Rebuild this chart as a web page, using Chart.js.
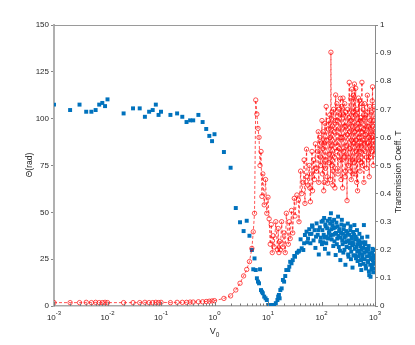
<!DOCTYPE html>
<html>
<head>
<meta charset="utf-8">
<script src="https://cdn.jsdelivr.net/npm/chart.js@4.4.1/dist/chart.umd.min.js"></script>
<style>
  html, body { margin: 0; padding: 0; background: #fff; }
  #wrap { width: 415px; height: 345px; }
</style>
</head>
<body>
<div id="wrap"><canvas id="thetaChart" width="415" height="345"></canvas></div>
<script>
// V0 sample points, shared by both curves
const v0 = [
  0.001, 0.002, 0.003, 0.004, 0.005, 0.006, 0.007, 0.008, 0.009, 0.01,
  0.02, 0.03, 0.04, 0.05, 0.06, 0.07, 0.08, 0.09, 0.1,
  0.15, 0.2, 0.25, 0.3, 0.35, 0.4, 0.5, 0.6, 0.7, 0.8, 0.9, 1,
  1.5, 2, 2.5, 3, 3.5, 4, 4.5, 5,
  5.3, 5.6, 5.9, 6.2, 6.5, 6.8, 7.1, 7.4, 7.7, 8, 8.5, 9, 9.5, 10, 10.5, 11, 11.5, 12, 12.5, 13,
  14, 15, 15.5, 16, 16.5, 17, 18, 19, 20,
  21, 22, 24, 25, 26, 27.5, 29, 31, 32, 34.7,
  37, 38, 40.7, 42.7, 45.7, 47.3, 49, 52.5, 54.2, 56,
  59, 60.5, 62, 65, 66.5, 68, 71, 74, 77, 79,
  81, 85, 87, 89, 93, 95, 97, 100,
  102, 104, 106, 108, 110, 112, 114, 116, 118, 120,
  122.5, 125, 127.5, 130, 132.5, 135, 137.5, 140, 142.5, 145,
  147.5, 150, 152.5, 155, 157.5, 160, 163, 166, 169, 172,
  175, 178, 181, 184, 187, 190, 193.5, 197, 200.5, 204,
  207.5, 211, 214.5, 218, 221.5, 225, 228.5, 232, 236, 240,
  244, 248, 252, 256, 260, 264, 268, 272, 276, 280,
  285, 290, 295, 300, 305, 310, 315, 320, 325, 330,
  335, 340, 345, 350, 355, 360, 365, 370, 375, 380,
  385, 390, 395, 400, 406, 412, 418, 424, 430, 436,
  442, 448, 454, 460, 466, 472, 478.5, 485, 491.5, 498,
  504.5, 511, 518, 525, 532.5, 540, 547.5, 555, 562.5, 570,
  577.5, 585, 592.5, 600, 610, 620, 630, 640, 650, 660,
  670, 680, 690, 700, 710, 720, 730, 740, 750, 760,
  770, 780, 790, 800, 812.5, 825, 837.5, 850, 862.5, 875,
  887.5, 900, 912.5, 925, 937.5, 950, 962.5, 975, 987.5, 1000
];

// Theta (rad), left axis
const theta = [
  107.5, 104.6, 107.5, 103.7, 103.7, 104.6, 107.5, 108.4, 106.7, 110.3,
  102.8, 105.5, 105.5, 101.0, 103.7, 104.6, 107.5, 102.0, 103.7,
  102.0, 102.8, 101.0, 98.2, 99.1, 99.1, 102.0, 98.2, 94.5, 90.8, 88.0, 91.7,
  82.2, 73.8, 52.3, 44.7, 40.0, 45.5, 37.5, 29.9,
  19.6, 25.4, 19.2, 14.8, 13.0, 12.1, 19.6, 8.5, 7.6, 6.8, 5.0, 4.1, 3.2, 0.5, 0.3, 0.5, 0.0, 0.5, 0.3, 0.5,
  1.5, 3.2, 5.0, 5.9, 4.1, 8.5, 9.4, 13.9, 13.0,
  16.0, 19.2, 19.2, 21.0, 23.6, 22.8, 24.5, 26.7, 26.3, 28.4,
  29.0, 29.5, 35.6, 30.8, 29.9, 33.5, 37.9, 39.7, 34.0, 36.0,
  41.0, 38.5, 33.5, 38.5, 43.0, 42.3, 35.0, 40.5, 31.0, 37.0,
  44.1, 38.0, 40.5, 27.5, 42.0, 34.5, 36.5, 45.0,
  33.0, 40.5, 45.5, 34.0, 38.0, 47.0, 36.5, 30.5, 43.5, 42.5,
  33.5, 37.0, 41.5, 45.5, 36.0, 28.0, 39.0, 40.0, 46.5, 44.0,
  37.5, 49.5, 41.0, 35.5, 45.0, 43.0, 38.0, 32.0, 41.5, 46.0,
  34.5, 38.5, 42.0, 27.2, 39.0, 44.5, 33.0, 36.0, 42.5, 47.7,
  37.5, 31.5, 40.0, 41.0, 29.5, 24.5, 36.5, 39.0, 43.5, 46.0,
  35.0, 33.0, 38.5, 28.5, 41.0, 43.0, 30.0, 36.5, 34.0, 22.0,
  37.5, 40.0, 31.5, 34.5, 39.0, 44.0, 27.5, 26.3, 35.0, 38.0,
  33.5, 31.0, 40.5, 42.5, 25.0, 29.0, 37.0, 36.0, 32.5, 20.5,
  34.0, 39.5, 27.0, 33.0, 38.0, 43.2, 30.5, 27.0, 35.5, 37.0,
  25.5, 31.5, 36.0, 40.5, 29.0, 24.0, 33.0, 35.0, 26.5, 29.5,
  34.5, 38.5, 28.0, 22.0, 32.0, 33.5, 24.5, 19.2, 30.0, 36.5,
  26.0, 27.5, 34.0, 31.0, 22.5, 43.2, 28.5, 25.0, 33.0, 34.0,
  21.5, 20.0, 29.0, 30.5, 26.5, 37.0, 24.0, 23.5, 30.0, 32.0,
  18.5, 16.5, 27.0, 28.0, 22.0, 15.6, 25.0, 26.0, 19.5, 21.0,
  28.5, 30.5, 24.5, 18.0, 22.5, 27.0, 20.0, 23.0, 25.5, 29.9
];

// Transmission coefficient T, right axis
const transmission = [
  0.012, 0.012, 0.012, 0.013, 0.012, 0.013, 0.012, 0.012, 0.013, 0.012,
  0.012, 0.012, 0.012, 0.013, 0.012, 0.012, 0.013, 0.012, 0.013,
  0.012, 0.013, 0.013, 0.013, 0.014, 0.014, 0.015, 0.015, 0.016, 0.017, 0.018, 0.019,
  0.027, 0.036, 0.057, 0.081, 0.107, 0.13, 0.158, 0.205,
  0.264, 0.33, 0.733, 0.683, 0.632, 0.60, 0.50, 0.55, 0.39, 0.47, 0.36, 0.45, 0.33, 0.387, 0.31, 0.22, 0.29, 0.19, 0.25, 0.21,
  0.30, 0.20, 0.276, 0.19, 0.23, 0.20, 0.30, 0.21, 0.26,
  0.19, 0.33, 0.22, 0.30, 0.24, 0.34, 0.26, 0.383, 0.32, 0.395,
  0.377, 0.30, 0.48, 0.40, 0.44, 0.52, 0.365, 0.558, 0.46, 0.43,
  0.50, 0.42, 0.371, 0.47, 0.55, 0.41, 0.52, 0.45, 0.577, 0.49,
  0.48, 0.55, 0.62, 0.44, 0.60, 0.53, 0.50, 0.58,
  0.66, 0.47, 0.56, 0.62, 0.41, 0.44, 0.58, 0.65, 0.49, 0.52,
  0.71, 0.59, 0.46, 0.437, 0.63, 0.66, 0.51, 0.54, 0.68, 0.60,
  0.45, 0.903, 0.57, 0.50, 0.69, 0.64, 0.43, 0.48, 0.70, 0.62,
  0.53, 0.42, 0.66, 0.751, 0.58, 0.55, 0.72, 0.66, 0.49, 0.47,
  0.63, 0.70, 0.56, 0.52, 0.68, 0.739, 0.60, 0.45, 0.71, 0.60,
  0.52, 0.42, 0.74, 0.68, 0.55, 0.53, 0.64, 0.72, 0.46, 0.48,
  0.69, 0.64, 0.57, 0.375, 0.61, 0.70, 0.53, 0.50, 0.67, 0.796,
  0.62, 0.56, 0.48, 0.66, 0.74, 0.45, 0.59, 0.772, 0.64, 0.52,
  0.47, 0.69, 0.75, 0.58, 0.51, 0.79, 0.62, 0.47, 0.68, 0.775,
  0.59, 0.55, 0.44, 0.70, 0.63, 0.41, 0.57, 0.65, 0.74, 0.52,
  0.60, 0.73, 0.55, 0.48, 0.66, 0.67, 0.51, 0.57, 0.72, 0.796,
  0.62, 0.50, 0.59, 0.70, 0.63, 0.44, 0.58, 0.72, 0.67, 0.55,
  0.61, 0.68, 0.53, 0.49, 0.64, 0.75, 0.69, 0.58, 0.52, 0.64,
  0.60, 0.46, 0.57, 0.71, 0.66, 0.53, 0.62, 0.69, 0.55, 0.60,
  0.73, 0.78, 0.64, 0.50, 0.59, 0.66, 0.71, 0.57, 0.54, 0.62
];

// Axis ticks
const xDecades = [-3, -2, -1, 0, 1, 2, 3];
const xMinorSteps = [2, 3, 4, 5, 6, 7, 8, 9];
const thetaTicks = [0, 25, 50, 75, 100, 125, 150];
const transTicks = [0, 0.1, 0.2, 0.3, 0.4, 0.5, 0.6, 0.7, 0.8, 0.9, 1];

const FONT = '"Liberation Sans", Arial, Helvetica, sans-serif';
const TEXT = '#262626';

// Draws the things Chart.js can't: inward x ticks, superscript labels, titles
const decorPlugin = {
  id: 'decor',
  afterDraw(chart) {
    const { ctx, chartArea: a, scales } = chart;
    const xs = scales.x;
    ctx.save();

    // top box line
    ctx.strokeStyle = '#9a9a9a';
    ctx.lineWidth = 1;
    ctx.beginPath();
    ctx.moveTo(a.left, a.top + 0.5);
    ctx.lineTo(a.right, a.top + 0.5);
    ctx.stroke();

    // x ticks pointing into the plot
    ctx.strokeStyle = '#7a7a7a';
    ctx.beginPath();
    xDecades.forEach((e) => {
      const p = Math.round(xs.getPixelForValue(Math.pow(10, e))) + 0.5;
      ctx.moveTo(p, a.bottom);
      ctx.lineTo(p, a.bottom - 4);
      if (e < 3) {
        xMinorSteps.forEach((m) => {
          const q = Math.round(xs.getPixelForValue(m * Math.pow(10, e))) + 0.5;
          ctx.moveTo(q, a.bottom);
          ctx.lineTo(q, a.bottom - 2.5);
        });
      }
    });
    ctx.stroke();

    // x tick labels 10^n
    ctx.fillStyle = TEXT;
    ctx.textAlign = 'left';
    ctx.textBaseline = 'alphabetic';
    xDecades.forEach((e) => {
      const p = xs.getPixelForValue(Math.pow(10, e));
      const exp = String(e);
      ctx.font = '8px ' + FONT;
      const wBase = ctx.measureText('10').width;
      ctx.font = '6px ' + FONT;
      const wExp = ctx.measureText(exp).width;
      const x0 = p - (wBase + wExp) / 2;
      ctx.font = '8px ' + FONT;
      ctx.fillText('10', x0, a.bottom + 14);
      ctx.font = '6px ' + FONT;
      ctx.fillText(exp, x0 + wBase, a.bottom + 9);
    });

    // x title V0
    const cx = (a.left + a.right) / 2;
    ctx.font = '9px ' + FONT;
    const wV = ctx.measureText('V').width;
    ctx.font = '6.5px ' + FONT;
    const wSub = ctx.measureText('0').width;
    const vx = cx - (wV + wSub) / 2;
    ctx.font = '9px ' + FONT;
    ctx.fillText('V', vx, a.bottom + 27.5);
    ctx.font = '6.5px ' + FONT;
    ctx.fillText('0', vx + wV, a.bottom + 31);

    // y titles, both reading bottom to top
    ctx.font = '8.5px ' + FONT;
    ctx.textAlign = 'center';
    ctx.textBaseline = 'middle';
    ctx.save();
    ctx.translate(30, 165);
    ctx.rotate(-Math.PI / 2);
    ctx.fillText('Θ(rad)', 0, 0);
    ctx.restore();
    ctx.save();
    ctx.translate(399, 172);
    ctx.rotate(-Math.PI / 2);
    ctx.fillText('Transmission Coeff. T', 0, 0);
    ctx.restore();

    ctx.restore();
  },
};

const ctx = document.getElementById('thetaChart').getContext('2d');

const chart = new Chart(ctx, {
  type: 'scatter',
  data: {
    datasets: [
      {
        label: 'T',
        data: v0.map((v, i) => ({ x: v, y: transmission[i] })),
        yAxisID: 'yT',
        showLine: true,
        borderColor: 'rgba(255, 0, 0, 0.85)',
        borderWidth: 0.8,
        borderDash: [3, 2],
        pointStyle: 'circle',
        pointRadius: 2.2,
        pointBorderWidth: 0.8,
        pointBorderColor: 'rgba(255, 0, 0, 0.85)',
        pointBackgroundColor: 'rgba(0, 0, 0, 0)',
        order: 0,
      },
      {
        label: 'Theta',
        data: v0.map((v, i) => ({ x: v, y: theta[i] })),
        yAxisID: 'yTheta',
        showLine: false,
        pointStyle: 'rect',
        pointRadius: 2.8,
        pointBorderWidth: 0,
        pointBackgroundColor: '#0072BD',
        order: 1,
      },
    ],
  },
  options: {
    responsive: false,
    animation: false,
    devicePixelRatio: 1,
    layout: { padding: { top: 25 } },
    plugins: {
      legend: { display: false },
      tooltip: { enabled: false },
    },
    scales: {
      x: {
        type: 'logarithmic',
        position: 'bottom',
        min: 0.001,
        max: 1000,
        ticks: { display: false },
        grid: { display: false },
        border: { display: true, color: '#a8a8a8', width: 1.5 },
        afterFit: (s) => { s.height = 39; },
      },
      yTheta: {
        type: 'linear',
        position: 'left',
        min: 0,
        max: 150,
        afterBuildTicks: (s) => { s.ticks = thetaTicks.map((v) => ({ value: v })); },
        ticks: { color: TEXT, padding: 2, font: { size: 8, family: FONT } },
        grid: { drawOnChartArea: false, tickLength: 3, color: '#888' },
        border: { color: '#b0b0b0', width: 2 },
        afterFit: (s) => { s.width = 54; },
      },
      yT: {
        type: 'linear',
        position: 'right',
        min: 0,
        max: 1,
        afterBuildTicks: (s) => { s.ticks = transTicks.map((v) => ({ value: v })); },
        ticks: {
          color: TEXT,
          padding: 2,
          font: { size: 8, family: FONT },
          callback: (v) => String(+v.toFixed(1)),
        },
        grid: { drawOnChartArea: false, tickLength: 3, color: '#888' },
        border: { color: '#8a8a8a', width: 1 },
        afterFit: (s) => { s.width = 40; },
      },
    },
  },
  plugins: [decorPlugin],
});
</script>
</body>
</html>
